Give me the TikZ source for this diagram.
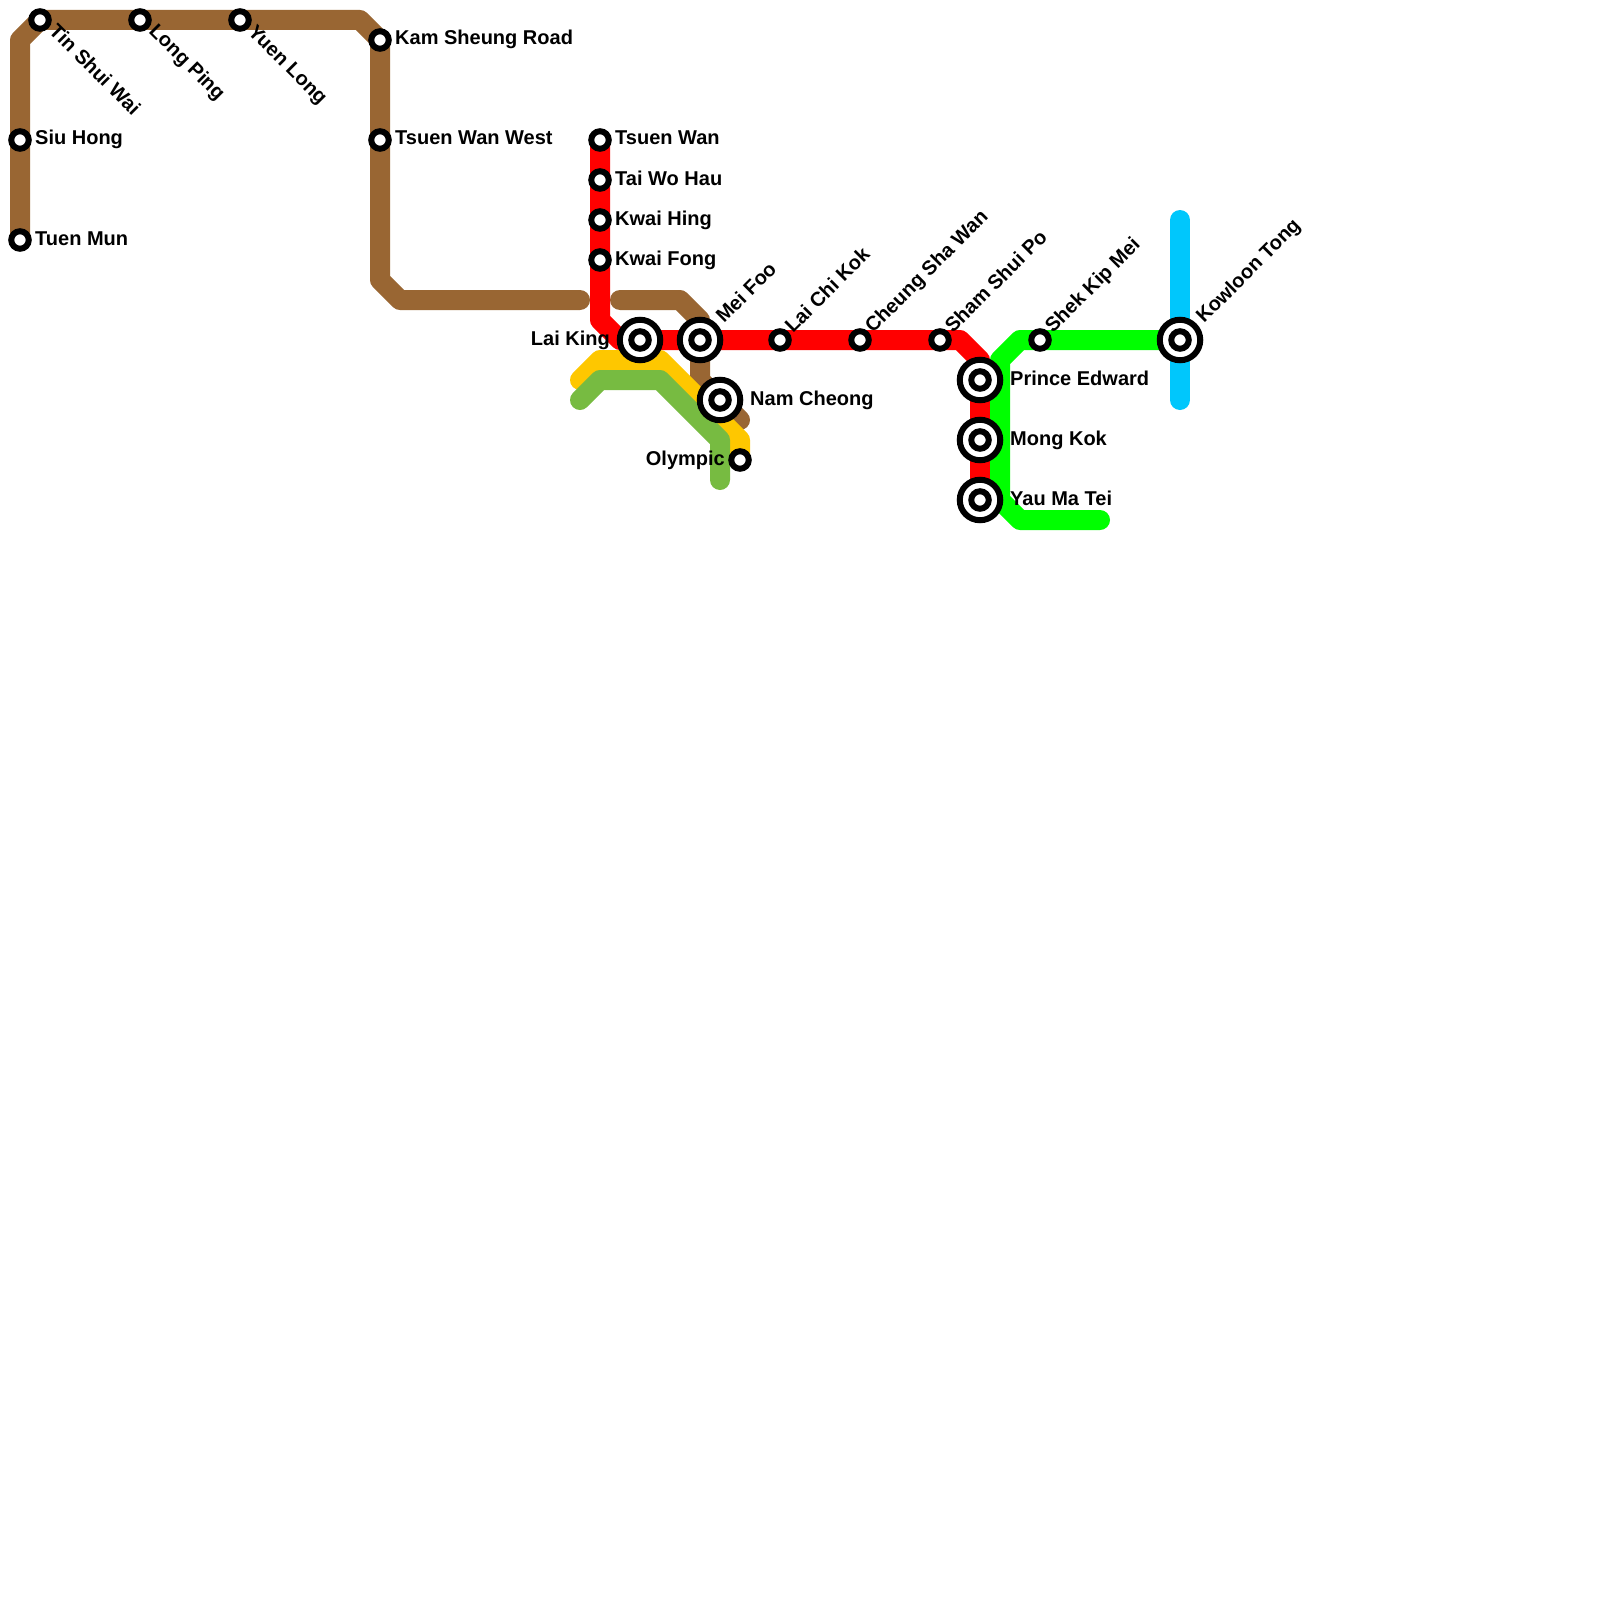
\documentclass[tikz,border=0pt]{standalone}
\usepackage{fontspec}
\setmainfont{Liberation Sans}
\definecolor{cbrown}{HTML}{996633}
\definecolor{cred}{HTML}{FF0000}
\definecolor{cyellow}{HTML}{FEC700}
\definecolor{colive}{HTML}{77BB41}
\definecolor{clime}{HTML}{00FF00}
\definecolor{cblue}{HTML}{00C7FC}
\tikzset{
 metro/.style={line width=20pt,line cap=round,line join=round},
 smallst/.style={circle,draw=black,fill=white,line width=6pt,minimum size=17.5pt,inner sep=0pt},
 bigout/.style={circle,draw=black,fill=white,line width=6pt,minimum size=40.5pt,inner sep=0pt},
 lab/.style={font=\bfseries\fontsize{20}{22}\selectfont,inner sep=0pt,text=black},
 labr/.style={lab,anchor=base west},
 labl/.style={lab,anchor=base east},
 labu/.style={lab,anchor=base west,rotate=45},
 labd/.style={lab,anchor=base west,rotate=-45},
}
\newcommand{\stn}[3]{\coordinate (#1) at (#2,#3);}
\newcommand{\smallstn}[1]{\node[smallst] (n#1) at (#1) {};}
\newcommand{\bigstn}[1]{\node[bigout] (o#1) at (#1) {};\node[smallst] (n#1) at (#1) {};}
\begin{document}
\begin{tikzpicture}[x=1pt,y=-1pt]
\useasboundingbox (0,0) rectangle (1600,1600);
\stn{tm}{20}{240}\stn{sh}{20}{140}\stn{a1}{20}{40}\stn{tsw}{40}{20}\stn{lp}{140}{20}\stn{yl}{240}{20}
\stn{a2}{360}{20}\stn{ksr}{380}{40}\stn{twwest}{380}{140}\stn{a3}{380}{280}\stn{a4}{400}{300}\stn{a5}{580}{300}
\stn{b1}{620}{300}\stn{b2}{680}{300}\stn{b3}{700}{320}\stn{mf}{700}{340}\stn{b4}{700}{380}\stn{nc}{720}{400}\stn{b5}{740}{420}
\stn{tw}{600}{140}\stn{twh}{600}{180}\stn{kh}{600}{220}\stn{kf}{600}{260}\stn{r1}{600}{320}\stn{r2}{620}{340}
\stn{lk}{640}{340}\stn{lck}{780}{340}\stn{csw}{860}{340}\stn{ssp}{940}{340}\stn{r3}{960}{340}\stn{r4}{980}{360}
\stn{pe}{980}{380}\stn{mk}{980}{440}\stn{ymt}{980}{500}
\stn{y1}{580}{380}\stn{y2}{600}{360}\stn{y3}{660}{360}\stn{y4}{740}{440}\stn{oly}{740}{460}
\stn{g1}{580}{400}\stn{g2}{600}{380}\stn{g3}{660}{380}\stn{g4}{720}{440}\stn{g5}{720}{480}
\stn{l1}{1100}{520}\stn{l2}{1020}{520}\stn{l3}{1000}{500}\stn{l4}{1000}{360}\stn{l5}{1020}{340}\stn{skm}{1040}{340}\stn{kt}{1180}{340}
\stn{u1}{1180}{220}\stn{u2}{1180}{400}
\draw[metro,cbrown] (tm)--(sh)--(a1)--(tsw)--(lp)--(yl)--(a2)--(ksr)--(twwest)--(a3)--(a4)--(a5);
\draw[metro,cbrown] (b1)--(b2)--(b3)--(mf)--(b4)--(nc)--(b5);
\draw[metro,cred] (tw)--(twh)--(kh)--(kf)--(r1)--(r2)--(lk)--(mf)--(lck)--(csw)--(ssp)--(r3)--(r4)--(pe)--(mk)--(ymt);
\draw[metro,cblue] (u1)--(kt)--(u2);
\draw[metro,clime] (l1)--(l2)--(l3)--(l4)--(l5)--(skm)--(kt);
\draw[metro,cyellow] (y1)--(y2)--(y3)--(y4)--(oly);
\draw[metro,colive] (g1)--(g2)--(g3)--(g4)--(g5);
\foreach \s in {tm,sh,tsw,lp,yl,ksr,twwest,tw,twh,kh,kf,oly,lck,csw,ssp,skm}{\smallstn{\s}}
\foreach \s in {lk,mf,nc,kt,pe,mk,ymt}{\bigstn{\s}}
\node[labd] (ttsw) at (48,32) {Tin Shui Wai};
\node[labd] (tlp) at (148,32) {Long Ping};
\node[labd] (tyl) at (247,33) {Yuen Long};
\node[labr] (tsh) at (35,145) {Siu Hong};
\node[labr] (ttm) at (35,245) {Tuen Mun};
\node[labr] (tksr) at (395,45) {Kam Sheung Road};
\node[labr] (ttww) at (395,145) {Tsuen Wan West};
\node[labr] (ttw) at (615,145) {Tsuen Wan};
\node[labr] (ttwh) at (615,185) {Tai Wo Hau};
\node[labr] (tkh) at (615,225) {Kwai Hing};
\node[labr] (tkf) at (615,265) {Kwai Fong};
\node[labl] (tlk) at (610,345) {Lai King};
\node[labu] (tmf) at (724,324) {Mei Foo};
\node[labr] (tnc) at (750,405) {Nam Cheong};
\node[labl] (toly) at (725,465) {Olympic};
\node[labu] (tlck) at (793,334) {Lai Chi Kok};
\node[labu] (tcsw) at (873,334) {Cheung Sha Wan};
\node[labu] (tssp) at (953,334) {Sham Shui Po};
\node[labu] (tskm) at (1053,334) {Shek Kip Mei};
\node[labu] (tkt) at (1204,324) {Kowloon Tong};
\node[labr] (tpe) at (1010,385) {Prince Edward};
\node[labr] (tmk) at (1010,445) {Mong Kok};
\node[labr] (tymt) at (1010,505) {Yau Ma Tei};
\end{tikzpicture}
\end{document}
